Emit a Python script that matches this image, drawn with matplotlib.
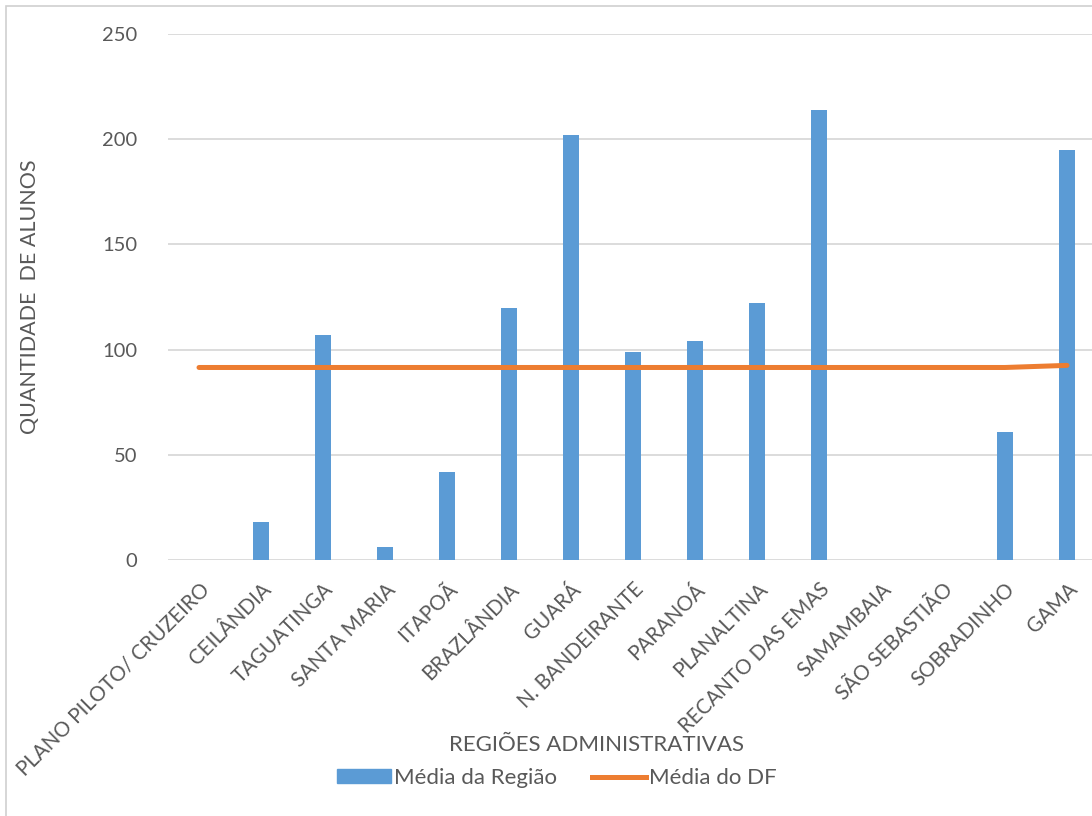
import matplotlib.pyplot as plt
from matplotlib.lines import Line2D
from matplotlib.patches import Patch, Rectangle

regioes = [
    "PLANO PILOTO/ CRUZEIRO", "CEILÂNDIA", "TAGUATINGA", "SANTA MARIA", "ITAPOÃ",
    "BRAZLÂNDIA", "GUARÁ", "N. BANDEIRANTE", "PARANOÁ", "PLANALTINA",
    "RECANTO DAS EMAS", "SAMAMBAIA", "SÃO SEBASTIÃO", "SOBRADINHO", "GAMA",
]
media_regiao = [0, 18, 107, 6, 42, 120, 202, 99, 104, 122, 214, 0, 0, 61, 195]
media_df = [91.5, 91.5, 91.5, 91.5, 91.5, 91.5, 91.5, 91.5, 91.5, 91.5,
            91.5, 91.5, 91.5, 91.5, 92.5]
y_ticks = [0, 50, 100, 150, 200, 250]

AZUL = "#5B9BD5"
LARANJA = "#ED7D31"
TEXTO = "#595959"
GRADE = "#D9D9D9"

plt.rcParams["font.family"] = ["Lato", "DejaVu Sans"]

W, H = 1092, 816
fig = plt.figure(figsize=(W / 100, H / 100), dpi=100)
fig.patches.append(Rectangle((6 / W, -0.1), 1.2, (H - 6) / H + 0.1,
                             transform=fig.transFigure, fill=False,
                             edgecolor="#D0D0D0", linewidth=1.2))

ax = fig.add_axes([168 / W, (H - 560) / H, 930 / W, 526 / H])
x = list(range(len(regioes)))
ax.bar(x, media_regiao, width=0.26, color=AZUL, zorder=3)
ax.plot(x, media_df, color=LARANJA, linewidth=3.6, solid_capstyle="round", zorder=4)

ax.set_xlim(-0.5, len(regioes) - 0.5)
ax.set_ylim(0, 250)
ax.set_yticks(y_ticks)
ax.yaxis.grid(True, color=GRADE, linewidth=1.3, zorder=0)
for s in ax.spines.values():
    s.set_visible(False)
ax.tick_params(axis="both", length=0, colors=TEXTO, labelsize=14.5)
ax.tick_params(axis="y", pad=22)
ax.set_xticks(x)
ax.set_xticklabels(regioes, rotation=45, ha="right", va="top",
                   rotation_mode="anchor", fontsize=14.8)
ax.tick_params(axis="x", pad=14)

fig.text(597 / W, 1 - 745 / H, "REGIÕES ADMINISTRATIVAS", ha="center", va="center",
         color=TEXTO, fontsize=16)
fig.text(30 / W, 1 - 297 / H, "QUANTIDADE  DE ALUNOS", ha="center", va="center",
         rotation=90, color=TEXTO, fontsize=15.5)

handles = [Patch(color=AZUL), Line2D([0], [0], color=LARANJA, linewidth=3.6)]
fig.legend(handles, ["Média da Região", "Média do DF"], loc="center",
           bbox_to_anchor=(557 / W, 1 - 778 / H), ncol=2, frameon=False,
           fontsize=16, labelcolor=TEXTO, handlelength=2.4, handleheight=0.6,
           handletextpad=0.15, columnspacing=1.6)

fig.savefig("out.png", dpi=100)
